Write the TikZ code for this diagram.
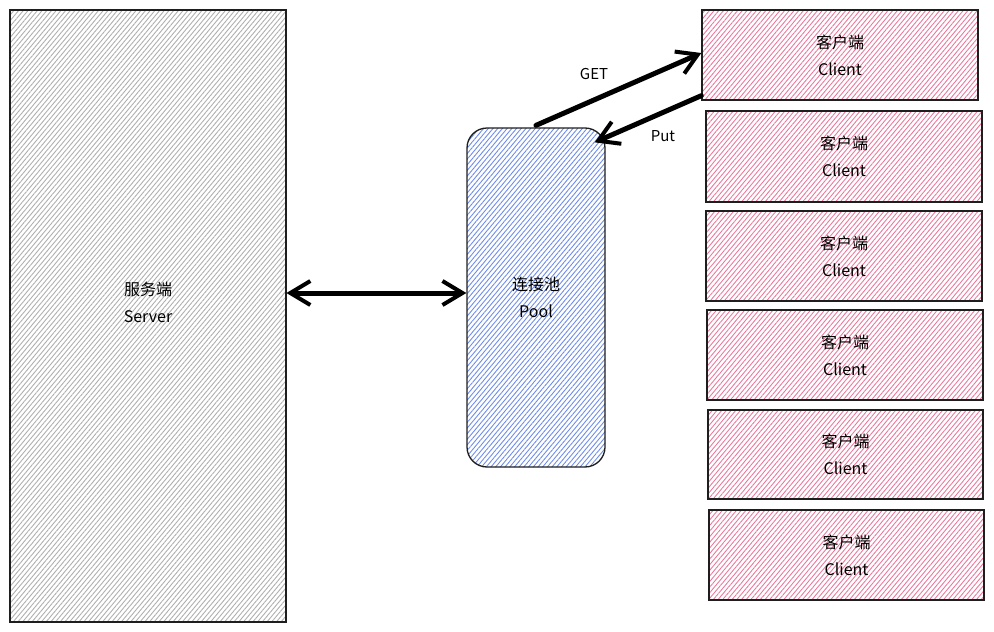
\documentclass[tikz,border=0pt]{standalone}
\usepackage{fontspec}
\setmainfont{Noto Sans CJK SC}
\usetikzlibrary{patterns.meta,arrows.meta}
\definecolor{srvhatch}{RGB}{175,175,175}
\definecolor{poolhatch}{RGB}{110,140,235}
\definecolor{clihatch}{RGB}{235,120,155}
\definecolor{edge}{RGB}{30,30,30}
\tikzset{barb/.tip={Straight Barb[length=20pt,width=24pt,line width=4pt]}}
\begin{document}
\begin{tikzpicture}[x=1pt,y=-1pt,
  box/.style={draw=edge, line width=1.3pt, inner sep=0pt, align=center,
    font=\fontsize{16}{27}\selectfont},
  hatch/.style={pattern={Lines[angle=50,distance=3.6pt,line width=0.9pt]}},
  srvbox/.style={box, hatch, minimum width=276pt, minimum height=612pt, pattern color=srvhatch},
  poolbox/.style={box, hatch, minimum width=138pt, minimum height=339pt, rounded corners=20pt,
    pattern color=poolhatch},
  clibox/.style={box, hatch, minimum width=276pt, minimum height=90pt, pattern color=clihatch},
  conn/.style={line width=5pt, line cap=round, black},
  lbl/.style={font=\fontsize{15}{18}\selectfont}
]
\useasboundingbox (0,0) rectangle (994,632);
\node[srvbox] (server) at (148,316) {服务端\\Server\\\mbox{}};
\node[poolbox] (pool) at (536,297.5) {连接池\\Pool};
\node[clibox] (c1) at (840,55) {客户端\\Client};
\node[clibox, minimum height=91pt] (c2) at (844,156.5) {客户端\\Client};
\node[clibox] (c3) at (844,256) {客户端\\Client};
\node[clibox] (c4) at (845,355) {客户端\\Client};
\node[clibox, minimum width=275pt, minimum height=89pt] (c5) at (845.5,454.5) {客户端\\Client};
\node[clibox, minimum width=275pt] (c6) at (846.5,555) {客户端\\Client};
\draw[conn, arrows={barb-barb}]
  ([yshift=4.5pt]pool.west -| server.east) -- ([yshift=4.5pt]pool.west);
\draw[conn, arrows={-barb}] ([yshift=2pt]pool.north) -- ([yshift=2pt]c1.west);
\draw[conn, arrows={-barb}] ([yshift=5pt]c1.south west) -- ([shift={(-11pt,-15pt)}]pool.north east);
\node[lbl] (get) at (594,74) {GET};
\node[lbl] (put) at (663,136) {Put};
\end{tikzpicture}
\end{document}
